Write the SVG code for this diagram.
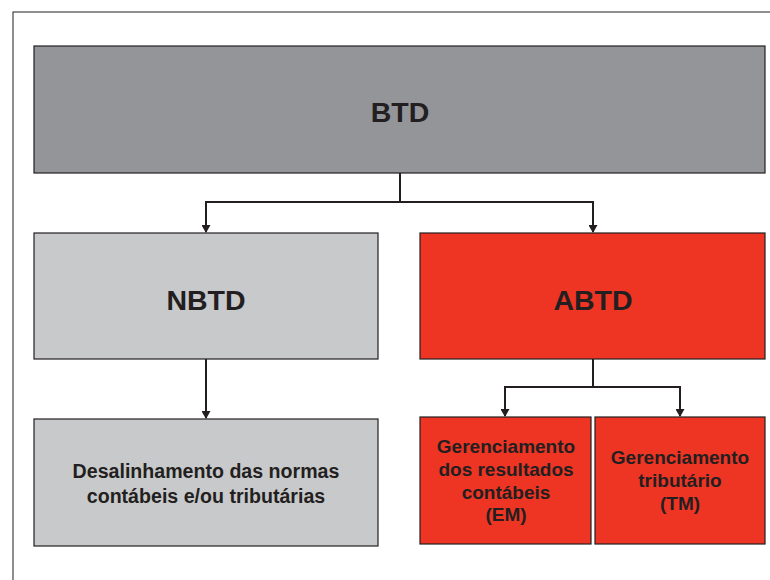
<svg xmlns="http://www.w3.org/2000/svg" width="770" height="580" viewBox="0 0 770 580">
<defs>
<style>
.box{stroke:#231f20;stroke-width:1.2}
.t{font-family:"Liberation Sans",Arial,sans-serif;font-weight:bold;fill:#231f20;text-anchor:middle}
.big{font-size:28.5px}
.sm{font-size:19.6px}
.xs{font-size:19px}
.c{fill:none;stroke:#231f20;stroke-width:2}
</style>
<marker id="ah" markerWidth="9" markerHeight="9" refX="7" refY="4.5" orient="auto" markerUnits="userSpaceOnUse">
<path d="M0,0 L8,4.5 L0,9 Z" fill="#231f20"/>
</marker>
</defs>
<rect width="770" height="580" fill="#fff"/>
<rect x="13" y="12" width="770" height="580" fill="none" stroke="#231f20" stroke-width="1"/>
<g id="connectors">
<path class="c" d="M400,173 V202 H206 V232" marker-end="url(#ah)"/>
<path class="c" d="M400,202 H593 V232" marker-end="url(#ah)"/>
<path class="c" d="M206,359 V418" marker-end="url(#ah)"/>
<path class="c" d="M593,359 V387 H505 V416" marker-end="url(#ah)"/>
<path class="c" d="M593,387 H680 V416" marker-end="url(#ah)"/>
</g>
<g id="btd">
<rect class="box" x="34" y="46" width="731" height="127" fill="#939598"/>
<text class="t big" x="400" y="122">BTD</text>
</g>
<g id="nbtd">
<rect class="box" x="34" y="233" width="344" height="126" fill="#c8c9cb"/>
<text class="t big" x="206" y="310">NBTD</text>
</g>
<g id="abtd">
<rect class="box" x="420" y="233" width="345" height="126" fill="#ee3524"/>
<text class="t big" x="593" y="310">ABTD</text>
</g>
<g id="desal">
<rect class="box" x="34" y="419" width="344" height="127" fill="#c8c9cb"/>
<text class="t sm" x="206" y="478">Desalinhamento das normas</text>
<text class="t sm" x="206" y="503">contábeis e/ou tributárias</text>
</g>
<g id="em">
<rect class="box" x="420" y="417" width="171" height="127" fill="#ee3524"/>
<text class="t xs" x="506" y="453">Gerenciamento</text>
<text class="t xs" x="506" y="476">dos resultados</text>
<text class="t xs" x="506" y="499">contábeis</text>
<text class="t xs" x="506" y="521">(EM)</text>
</g>
<g id="tm">
<rect class="box" x="595" y="417" width="170" height="127" fill="#ee3524"/>
<text class="t xs" x="680" y="464">Gerenciamento</text>
<text class="t xs" x="680" y="487">tributário</text>
<text class="t xs" x="680" y="510">(TM)</text>
</g>
</svg>
